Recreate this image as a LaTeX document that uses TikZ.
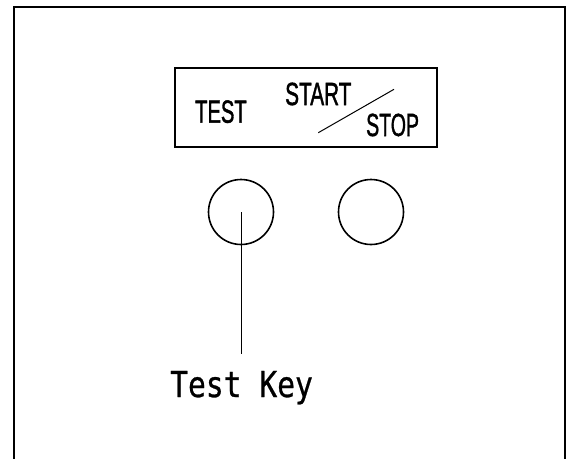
\documentclass[tikz,border=0pt]{standalone}
\usepackage{fontspec}
\setmainfont{Liberation Sans}
\newfontfamily\monofam[FakeBold=0.8]{DejaVu Sans Mono}
\newfontfamily\boxfam[FakeBold=1.6]{Liberation Sans}
\begin{document}
\begin{tikzpicture}[x=1pt,y=-1pt,
  lbl/.style={inner sep=0pt, anchor=base west, font=\boxfam\fontsize{32}{32}\selectfont},
  keycircle/.style={circle, draw, line width=1.6pt, minimum size=65pt, inner sep=0pt}]
\useasboundingbox (0,0) rectangle (569,458);
\clip (0,0) rectangle (569,458);
\fill[white] (0,0) rectangle (569,458);
\draw[line width=2pt] (14,7) rectangle (565,475);
\node[draw, line width=2pt, minimum width=262pt, minimum height=79pt, inner sep=0pt] (panel) at (306,107.5) {};
\node[lbl] (test) at (195,122.7) {\scalebox{0.63}[1]{TEST}};
\node[lbl] (start) at (285,105) {\scalebox{0.65}[1]{START}};
\node[lbl] (stop) at (366,136) {\scalebox{0.61}[1]{STOP}};
\coordinate (sa) at (318.3,132.7);
\coordinate (sb) at (394,89.3);
\draw[line width=1pt] (sa) -- (sb);
\node[keycircle] (k1) at (241,212) {};
\node[keycircle] (k2) at (371,212) {};
\node[inner sep=0pt, anchor=base west, font=\monofam\fontsize{35.7}{36}\selectfont] (keylbl) at (170,397) {\scalebox{0.83}[1]{Test Key}};
\coordinate (lend) at (241,354);
\draw[line width=1pt] (k1.center) -- (lend);
\end{tikzpicture}
\end{document}
